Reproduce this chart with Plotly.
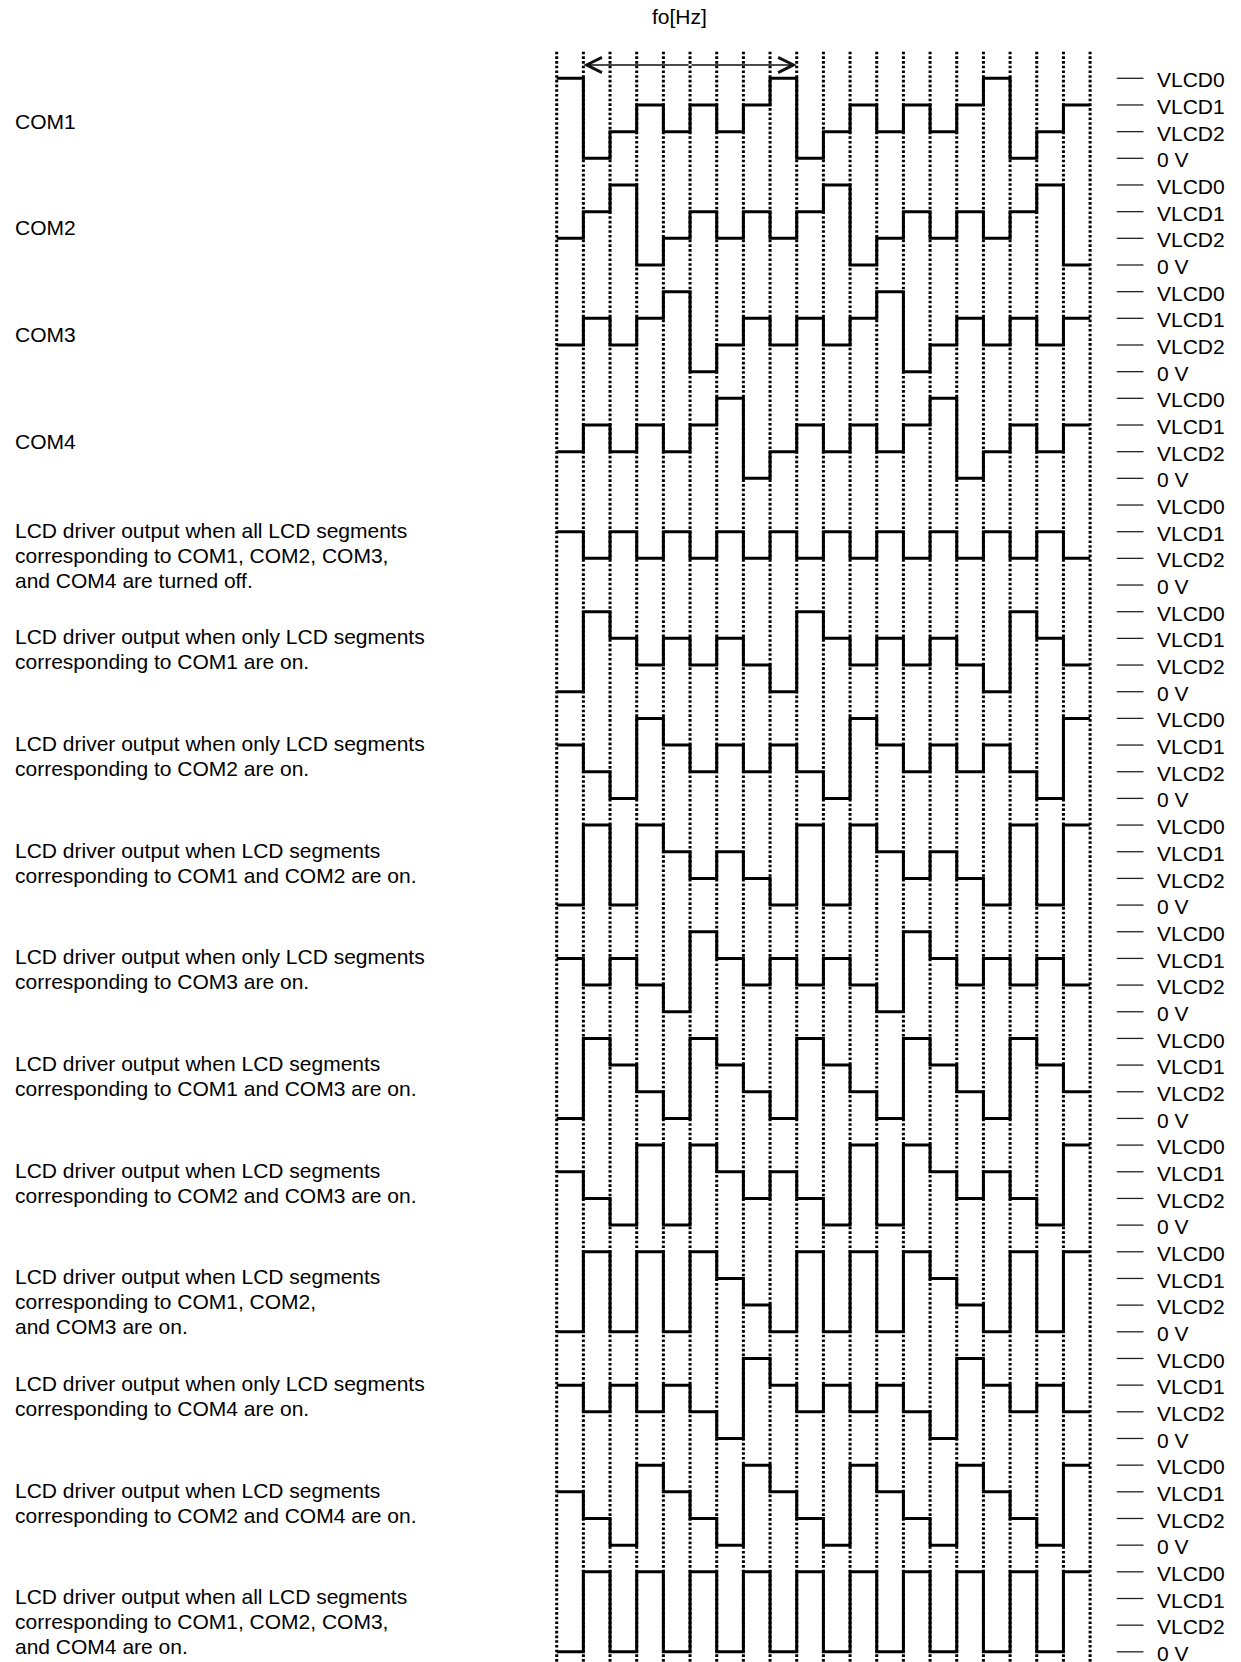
import plotly.graph_objects as go

# ---------------- data ----------------
LEVEL_NAMES = ["VLCD0", "VLCD1", "VLCD2", "0 V"]
LEVEL_CODES = [3, 2, 1, 0]          # 3 = VLCD0 ... 0 = 0 V

TIME_EDGES = [0, 1, 2, 3, 4, 5, 6, 7, 8, 9, 10, 11, 12, 13, 14, 15, 16, 17, 18, 19, 20]
FRAME_START = 1
FRAME_END = 9
FRAME_LABEL = "fo[Hz]"

COM1 = [3, 0, 1, 2, 1, 2, 1, 2, 3, 0, 1, 2, 1, 2, 1, 2, 3, 0, 1, 2]
COM2 = [1, 2, 3, 0, 1, 2, 1, 2, 1, 2, 3, 0, 1, 2, 1, 2, 1, 2, 3, 0]
COM3 = [1, 2, 1, 2, 3, 0, 1, 2, 1, 2, 1, 2, 3, 0, 1, 2, 1, 2, 1, 2]
COM4 = [1, 2, 1, 2, 1, 2, 3, 0, 1, 2, 1, 2, 1, 2, 3, 0, 1, 2, 1, 2]
SEG_OFF = [2, 1, 2, 1, 2, 1, 2, 1, 2, 1, 2, 1, 2, 1, 2, 1, 2, 1, 2, 1]
SEG_C1 = [0, 3, 2, 1, 2, 1, 2, 1, 0, 3, 2, 1, 2, 1, 2, 1, 0, 3, 2, 1]
SEG_C2 = [2, 1, 0, 3, 2, 1, 2, 1, 2, 1, 0, 3, 2, 1, 2, 1, 2, 1, 0, 3]
SEG_C12 = [0, 3, 0, 3, 2, 1, 2, 1, 0, 3, 0, 3, 2, 1, 2, 1, 0, 3, 0, 3]
SEG_C3 = [2, 1, 2, 1, 0, 3, 2, 1, 2, 1, 2, 1, 0, 3, 2, 1, 2, 1, 2, 1]
SEG_C13 = [0, 3, 2, 1, 0, 3, 2, 1, 0, 3, 2, 1, 0, 3, 2, 1, 0, 3, 2, 1]
SEG_C23 = [2, 1, 0, 3, 0, 3, 2, 1, 2, 1, 0, 3, 0, 3, 2, 1, 2, 1, 0, 3]
SEG_C123 = [0, 3, 0, 3, 0, 3, 2, 1, 0, 3, 0, 3, 0, 3, 2, 1, 0, 3, 0, 3]
SEG_C4 = [2, 1, 2, 1, 2, 1, 0, 3, 2, 1, 2, 1, 2, 1, 0, 3, 2, 1, 2, 1]
SEG_C24 = [2, 1, 0, 3, 2, 1, 0, 3, 2, 1, 0, 3, 2, 1, 0, 3, 2, 1, 0, 3]
SEG_ALL = [0, 3, 0, 3, 0, 3, 0, 3, 0, 3, 0, 3, 0, 3, 0, 3, 0, 3, 0, 3]

WAVES = [COM1, COM2, COM3, COM4, SEG_OFF, SEG_C1, SEG_C2, SEG_C12, SEG_C3,
         SEG_C13, SEG_C23, SEG_C123, SEG_C4, SEG_C24, SEG_ALL]

ROW_LABELS = [
    ["COM1"],
    ["COM2"],
    ["COM3"],
    ["COM4"],
    ["LCD driver output when all LCD segments", "corresponding to COM1, COM2, COM3,", "and COM4 are turned off."],
    ["LCD driver output when only LCD segments", "corresponding to COM1 are on."],
    ["LCD driver output when only LCD segments", "corresponding to COM2 are on."],
    ["LCD driver output when LCD segments", "corresponding to COM1 and COM2 are on."],
    ["LCD driver output when only LCD segments", "corresponding to COM3 are on."],
    ["LCD driver output when LCD segments", "corresponding to COM1 and COM3 are on."],
    ["LCD driver output when LCD segments", "corresponding to COM2 and COM3 are on."],
    ["LCD driver output when LCD segments", "corresponding to COM1, COM2,", "and COM3 are on."],
    ["LCD driver output when only LCD segments", "corresponding to COM4 are on."],
    ["LCD driver output when LCD segments", "corresponding to COM2 and COM4 are on."],
    ["LCD driver output when all LCD segments", "corresponding to COM1, COM2, COM3,", "and COM4 are on."],
]

# ---------------- geometry (data units: 1 unit = one time slot = one level step) ----------------
W, H = 1241, 1662
UNIT = 26.67                 # pixels per unit
X0_PX, Y0_PX = 556.7, 78.3   # pixel position of t=0 and of COM1 VLCD0
ROW_STEP = 4

def row_y(k, code):
    return -ROW_STEP * k + (code - 3)

FONT = dict(family="Liberation Sans, Arial, sans-serif", size=21, color="black")

fig = go.Figure()

# dotted time grid
gx, gy = [], []
for t in TIME_EDGES:
    gx += [t, t, None]
    gy += [1.0, -62, None]
fig.add_trace(go.Scatter(x=gx, y=gy, mode="lines",
                         line=dict(color="black", width=3, dash="2.6px,2.1px"),
                         hoverinfo="skip"))

# waveforms
for k, wave in enumerate(WAVES):
    ys = [row_y(k, c) for c in wave] + [row_y(k, wave[-1])]
    fig.add_trace(go.Scatter(x=TIME_EDGES, y=ys, mode="lines", line_shape="hv",
                             line=dict(color="black", width=3), hoverinfo="skip"))

# level tick marks + labels on the right
tx, ty = [], []
annotations = []
for k in range(len(WAVES)):
    for name, code in zip(LEVEL_NAMES, LEVEL_CODES):
        y = row_y(k, code)
        tx += [21, 22, None]
        ty += [y, y, None]
        annotations.append(dict(x=22.45, y=y - 0.06, xref="x", yref="y", text=name,
                                showarrow=False, xanchor="left", yanchor="middle", font=FONT))
fig.add_trace(go.Scatter(x=tx, y=ty, mode="lines",
                         line=dict(color="#222222", width=1.3), hoverinfo="skip"))

# row labels on the left
LINE_STEP = 25 / UNIT
for k, lines in enumerate(ROW_LABELS):
    yc = -ROW_STEP * k - 1.5
    if len(lines) == 1:
        ys = [yc - 3 / UNIT]
    else:
        ys = [yc + 15 / UNIT - i * LINE_STEP for i in range(len(lines))]
    for line, y in zip(lines, ys):
        annotations.append(dict(x=-20.4, y=y, xref="x", yref="y", text=line,
                                showarrow=False, xanchor="left", yanchor="middle", font=FONT))

# frame arrow (double headed) and label
xc = (FRAME_START + FRAME_END) / 2
for tip in (FRAME_START, FRAME_END):
    annotations.append(dict(x=tip, y=0.5, ax=xc, ay=0.5, xref="x", yref="y",
                            axref="x", ayref="y", text="", showarrow=True,
                            arrowhead=5, arrowsize=2.0, arrowwidth=1.5,
                            arrowcolor="#111111", standoff=0))
annotations.append(dict(x=4.6, y=(Y0_PX - 16) / UNIT, xref="x", yref="y", text=FRAME_LABEL,
                        showarrow=False, xanchor="center", yanchor="middle", font=FONT))

fig.update_layout(
    width=W, height=H,
    margin=dict(l=0, r=0, t=0, b=0),
    paper_bgcolor="white", plot_bgcolor="white",
    showlegend=False,
    annotations=annotations,
    xaxis=dict(range=[-X0_PX / UNIT, (W - X0_PX) / UNIT], visible=False, fixedrange=True),
    yaxis=dict(range=[-(H - Y0_PX) / UNIT, Y0_PX / UNIT], visible=False, fixedrange=True),
)

fig.write_html("out.html", config={"displayModeBar": False},
               post_script="document.body.style.margin='0px';")
